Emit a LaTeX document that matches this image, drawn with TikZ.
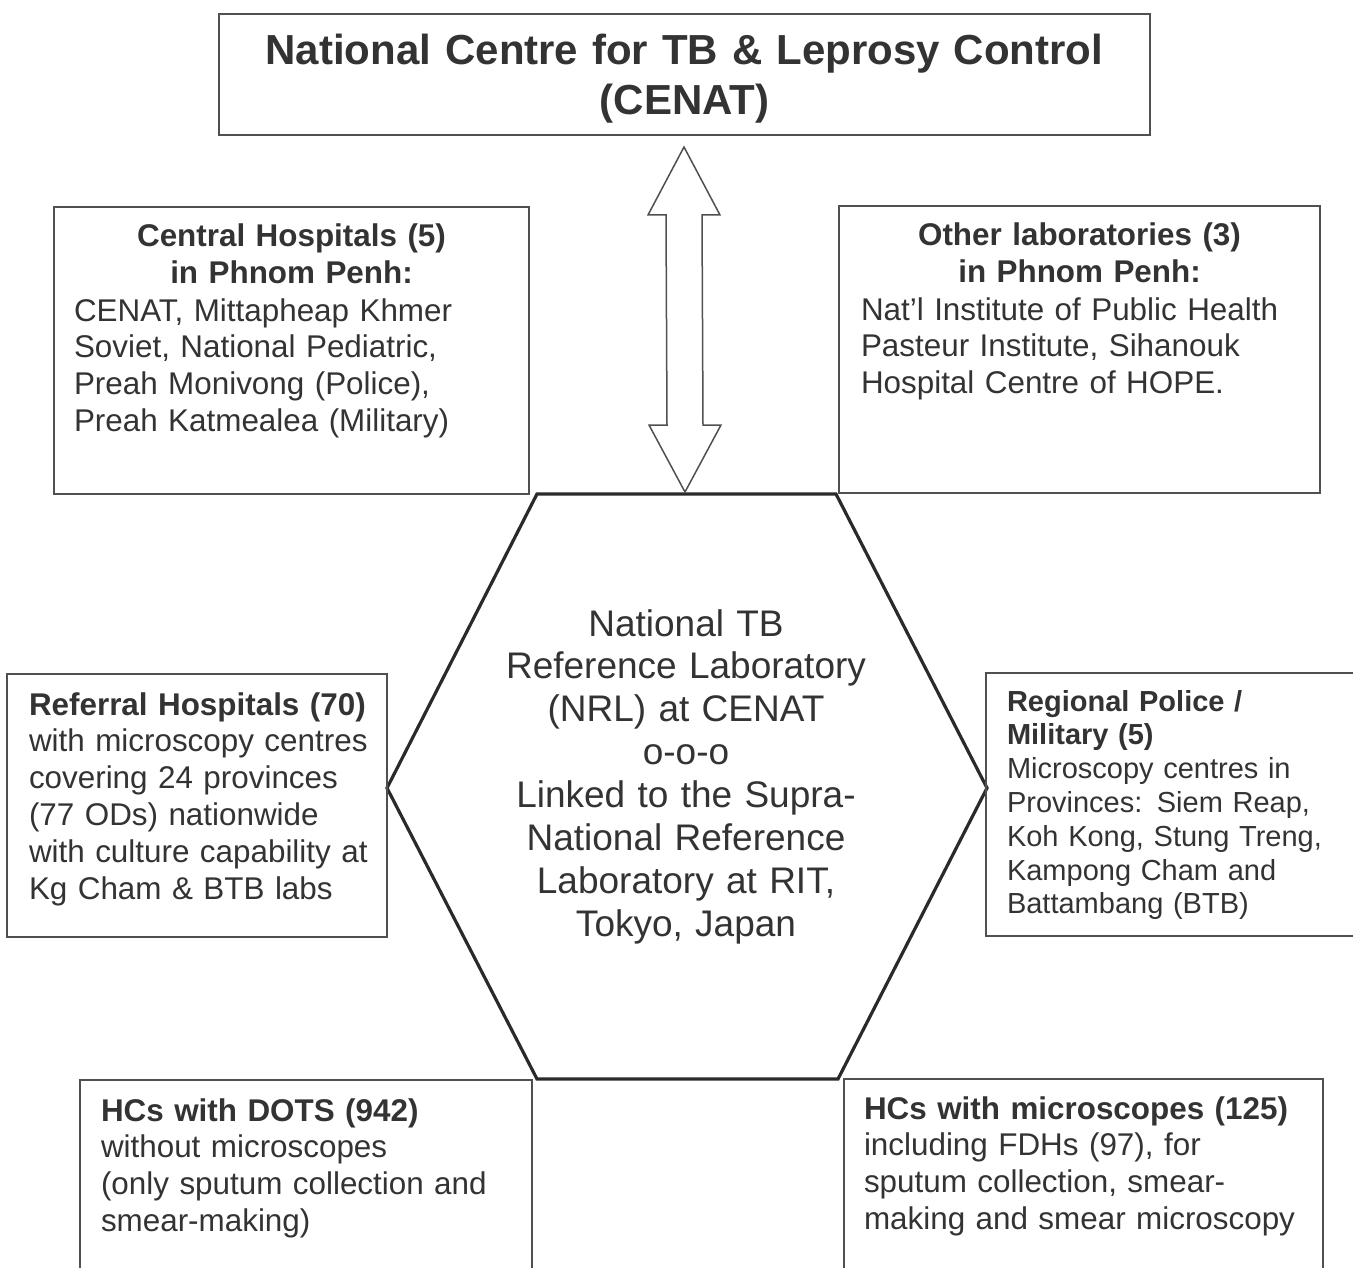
\documentclass[tikz,border=0pt]{standalone}
\usepackage{fontspec}
\setmainfont{Liberation Sans}
\usetikzlibrary{calc}
\definecolor{ink}{HTML}{333333}
\definecolor{frame}{HTML}{505050}
\definecolor{hexline}{HTML}{2A2A2A}
\tikzset{
  boxframe/.style={draw=frame, line width=1.5pt, rectangle, inner sep=0pt, outer sep=0pt, anchor=north west},
  txt/.style={inner sep=0pt, outer sep=0pt, text=ink, text width=600pt},
  bodytxt/.style={txt, anchor=base west, align=left, font=\fontsize{31.4}{36.8}\selectfont},
  headtxt/.style={txt, anchor=base, align=center, font=\bfseries\fontsize{31.4}{36.8}\selectfont},
  smalltxt/.style={txt, anchor=base west, align=left, font=\fontsize{29}{33.8}\selectfont},
  hextxt/.style={txt, anchor=base, align=center, font=\fontsize{37}{42.9}\selectfont},
  titletxt/.style={txt, text width=1100pt, anchor=base, align=center, font=\bfseries\fontsize{42}{50}\selectfont},
  hexagon/.style={draw=hexline, line width=3.2pt, line join=miter},
  linkarrow/.style={draw=frame, line width=1.5pt, fill=white, line join=miter},
}
\begin{document}
\begin{tikzpicture}[x=1pt, y=-1pt]
\useasboundingbox (0,0) rectangle (1353,1268);
\clip (0,0) rectangle (1353,1268);
\fill[white] (0,0) rectangle (1353,1268);

% title
\node[boxframe, minimum width=931pt, minimum height=121pt] (title) at (219,14) {};
\node[titletxt] (titletext) at (684.5,65) {National Centre for TB \& Leprosy Control\\(CENAT)};

% hexagon
\coordinate (h1) at (537,494);
\coordinate (h2) at (836,494);
\coordinate (h3) at (987,788);
\coordinate (h4) at (838,1079);
\coordinate (h5) at (537,1079);
\coordinate (h6) at (387,788);
\draw[hexagon] (h1) -- (h2) -- (h3) -- (h4) -- (h5) -- (h6) -- cycle;
\node[hextxt] (nrl) at (686,636) {National TB\\Reference Laboratory\\(NRL) at CENAT\\o-o-o\\Linked to the Supra-\\National Reference\\Laboratory at RIT,\\Tokyo, Japan};

% double arrow between title and hexagon
\coordinate (aT) at ($(title.south)+(-0.5,12)$);
\coordinate (aB) at (685,492);
\draw[linkarrow] (aT) -- ($(aT)+(36,68)$) -- ($(aT)+(18,68)$) -- ($(aB)+(18,-67)$) -- ($(aB)+(36,-67)$) -- (aB)
  -- ($(aB)+(-36,-67)$) -- ($(aB)+(-18,-67)$) -- ($(aT)+(-18,68)$) -- ($(aT)+(-36,68)$) -- cycle;

% central hospitals
\node[boxframe, minimum width=475pt, minimum height=287pt] (central) at (54,207) {};
\node[headtxt] (centralhead) at (291.5,247) {Central Hospitals (5)\\in Phnom Penh:};
\node[bodytxt] (centralbody) at (74,321) {CENAT, Mittapheap Khmer\\Soviet, National Pediatric,\\Preah Monivong (Police),\\Preah Katmealea (Military)};

% other laboratories
\node[boxframe, minimum width=481pt, minimum height=287pt] (other) at (839,206) {};
\node[headtxt] (otherhead) at (1079.5,246) {Other laboratories (3)\\in Phnom Penh:};
\node[bodytxt] (otherbody) at (861,320) {Nat’l Institute of Public Health\\Pasteur Institute, Sihanouk\\Hospital Centre of HOPE.};

% referral hospitals
\node[boxframe, minimum width=380pt, minimum height=263pt] (referral) at (7,674) {};
\node[bodytxt] (referraltext) at (29,715) {{\bfseries Referral Hospitals (70)}\\with microscopy centres\\covering 24 provinces\\(77 ODs) nationwide\\with culture capability at\\Kg Cham \& BTB labs};

% regional police / military
\node[boxframe, minimum width=372pt, minimum height=263pt] (regional) at (986,673) {};
\node[smalltxt] (regionaltext) at (1007,711) {{\bfseries Regional Police /}\\{\bfseries Military (5)}\\Microscopy centres in\\Provinces: Siem Reap,\\Koh Kong, Stung Treng,\\Kampong Cham and\\Battambang (BTB)};

% HCs with DOTS
\node[boxframe, minimum width=452pt, minimum height=230pt] (dots) at (80,1080) {};
\node[bodytxt] (dotstext) at (101,1121) {{\bfseries HCs with DOTS (942)}\\without microscopes\\(only sputum collection and\\smear-making)};

% HCs with microscopes
\node[boxframe, minimum width=479pt, minimum height=230pt] (micro) at (844,1079) {};
\node[bodytxt] (microtext) at (864,1119) {{\bfseries HCs with microscopes (125)}\\including FDHs (97), for\\sputum collection, smear-\\making and smear microscopy};
\end{tikzpicture}
\end{document}
